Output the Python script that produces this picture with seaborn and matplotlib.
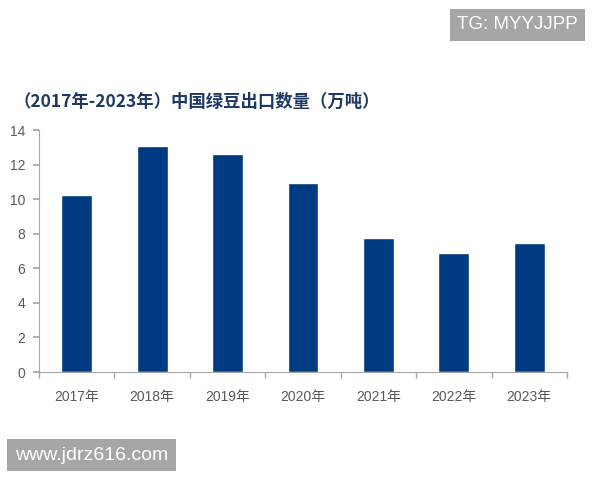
import matplotlib
matplotlib.use("Agg")
import matplotlib.pyplot as plt
import seaborn as sns
import pandas as pd
import numpy as np

years = ["2017年", "2018年", "2019年", "2020年", "2021年", "2022年", "2023年"]
values = [10.24, 13.07, 12.6, 10.93, 7.75, 6.88, 7.46]
title = "（2017年-2023年）中国绿豆出口数量（万吨）"
y_ticks = [0, 2, 4, 6, 8, 10, 12, 14]

sns.set_theme(style="white")
plt.rcParams['font.family'] = ['Noto Sans CJK SC', 'DejaVu Sans']

df = pd.DataFrame({"year": years, "value": values})

fig = plt.figure(figsize=(6, 4.8), dpi=100)
ax = fig.add_axes([0.065, 0.225, 0.88, 0.504])
sns.barplot(data=df, x="year", y="value", color="#003A80", width=0.41,
            saturation=1, ax=ax)

ax.set_xlim(-0.5, len(years) - 0.5)
ax.set_ylim(0, 14)
ax.set_yticks(y_ticks)
ax.set_xlabel("")
ax.set_ylabel("")
for s in ["top", "right"]:
    ax.spines[s].set_visible(False)
for s in ["left", "bottom"]:
    ax.spines[s].set_color("#a6a6a6")
    ax.spines[s].set_linewidth(0.8)

ax.tick_params(axis="y", which="major", left=True, length=4, color="#a6a6a6",
               labelsize=10, labelcolor="#595959", pad=6)
ax.tick_params(axis="x", which="major", bottom=False, labelsize=10,
               labelcolor="#595959", pad=7)
ax.set_xticks(np.arange(-0.5, len(years)), minor=True)
ax.tick_params(axis="x", which="minor", bottom=True, length=4, color="#a6a6a6")
for lab in ax.get_yticklabels():
    lab.set_family(['Liberation Sans'])
for lab in ax.get_xticklabels():
    lab.set_family(['Liberation Sans', 'Noto Sans CJK SC'])

fig.text(0.023, 0.787, title, fontsize=12.5, color="#1F3864",
         ha="left", va="center", fontweight="semibold")

fig.text(0.762, 0.948, "TG: MYYJJPP", fontsize=13.5, color="white",
         ha="left", va="center", family=['Liberation Sans'],
         bbox=dict(boxstyle="square,pad=0.4", fc="#a6a6a6", ec="none"))
fig.text(0.025, 0.052, "www.jdrz616.com", fontsize=14, color="white",
         ha="left", va="center", family=['Liberation Sans'],
         bbox=dict(boxstyle="square,pad=0.4", fc="#a6a6a6", ec="none"))

fig.savefig("out.png", dpi=100)
